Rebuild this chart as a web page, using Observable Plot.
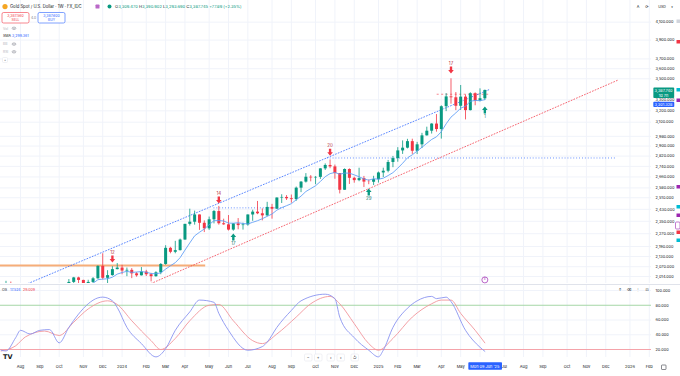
<!DOCTYPE html>
<html>
<head>
<meta charset="utf-8">
<script src="https://cdn.jsdelivr.net/npm/d3@7"></script>
<script src="https://cdn.jsdelivr.net/npm/@observablehq/plot@0.6"></script>
<style>
html,body{margin:0;padding:0;background:#fff;}
#wrap{position:relative;width:680px;height:376px;overflow:hidden;background:#fff;}
#main,#osc,#ui{position:absolute;left:0;width:680px;}
#main{top:0;height:284px;} #osc{top:284px;height:92px;} #ui{top:0;pointer-events:none;}
#main svg,#osc svg{display:block;}
</style>
</head>
<body>
<div id="wrap">
<div id="main"></div>
<div id="osc"></div>
<svg id="ui" width="680" height="376" viewBox="0 0 680 376" font-family="Inter, Roboto, 'DejaVu Sans', sans-serif">
  <line x1="0" y1="284.5" x2="680" y2="284.5" stroke="#e0e3eb" stroke-width="1"/>
  <!-- symbol header -->
  <circle cx="5" cy="6.6" r="2.6" fill="#f5a623"/>
  <text x="10" y="8.1" font-size="4.2" fill="#131722">Gold Spot / U.S. Dollar · 1W · FX_IDC</text>
  <rect x="95.5" y="4.6" width="4" height="4" rx="0.7" fill="#ba68c8"/>
  <circle cx="109.5" cy="6.6" r="2" fill="#089981"/>
  <text x="115" y="8.1" font-size="4.1" fill="#131722">O<tspan fill="#089981">3,309.470</tspan> H<tspan fill="#089981">3,390.902</tspan> L<tspan fill="#089981">3,293.690</tspan> C<tspan fill="#089981">3,387.745</tspan> <tspan fill="#089981">+77.89 (+2.35%)</tspan></text>
  <!-- sell / buy -->
  <rect x="2" y="12.5" width="27" height="10.5" rx="1.6" fill="#fff" stroke="#f23645" stroke-width="0.6"/>
  <text x="15.5" y="17" text-anchor="middle" font-size="3.5" fill="#f23645">3,387.560</text>
  <text x="15.5" y="21.4" text-anchor="middle" font-size="3.3" fill="#f23645">SELL</text>
  <text x="33.5" y="18.9" text-anchor="middle" font-size="3.3" fill="#787b86">4.0</text>
  <rect x="38" y="12.5" width="27" height="10.5" rx="1.6" fill="#fff" stroke="#2962ff" stroke-width="0.6"/>
  <text x="51.5" y="17" text-anchor="middle" font-size="3.5" fill="#2962ff">3,387.600</text>
  <text x="51.5" y="21.4" text-anchor="middle" font-size="3.3" fill="#2962ff">BUY</text>
  <!-- indicator rows -->
  <text x="3" y="29.6" font-size="3.4" fill="#b2b5be">Vol</text>
  <ellipse cx="14" cy="28.3" rx="1.9" ry="1.2" fill="none" stroke="#787b86" stroke-width="0.5"/><circle cx="14" cy="28.3" r="0.5" fill="#787b86"/>
  <text x="3" y="37.2" font-size="3.6" fill="#131722">SMA <tspan fill="#2962ff">3,299.361</tspan></text>
  <text x="3" y="45.4" font-size="3.4" fill="#b2b5be">BB</text>
  <ellipse cx="14" cy="44.1" rx="1.9" ry="1.2" fill="none" stroke="#787b86" stroke-width="0.5"/><circle cx="14" cy="44.1" r="0.5" fill="#787b86"/>
  <text x="3" y="53.1" font-size="3.4" fill="#b2b5be">RSI</text>
  <ellipse cx="14" cy="51.8" rx="1.9" ry="1.2" fill="none" stroke="#787b86" stroke-width="0.5"/><circle cx="14" cy="51.8" r="0.5" fill="#787b86"/>
  <rect x="2.5" y="57.5" width="5" height="5" rx="1" fill="#fff" stroke="#e0e3eb" stroke-width="0.5"/>
  <text x="5" y="61.6" text-anchor="middle" font-size="3.6" fill="#131722">^</text>
  <!-- top right -->
  <text x="638" y="8" text-anchor="middle" font-size="3.8" fill="#131722">A</text>
  <text x="647" y="8" text-anchor="middle" font-size="4" fill="#131722">⟳</text>
  <text x="662" y="8" text-anchor="middle" font-size="3.6" fill="#131722">USD</text>
  <text x="672" y="8" text-anchor="middle" font-size="3.2" fill="#131722">▾</text>
  <!-- right edge markers -->
  <rect x="676.5" y="19.5" width="3.5" height="3.5" fill="#d1d4dc"/>
  <rect x="676.5" y="40" width="3.5" height="3.5" fill="#f23645"/>
  <rect x="676.5" y="88" width="3.5" height="3.5" fill="#00bcd4"/>
  <rect x="676.5" y="98.5" width="3.5" height="3.5" fill="#9c27b0"/>
  <rect x="676.5" y="185" width="3.5" height="3.5" fill="#9c27b0"/>
  <rect x="676.5" y="205" width="3.5" height="3.5" fill="#00bcd4"/>
  <rect x="676.5" y="213.5" width="3.5" height="3.5" fill="#9c27b0"/>
  <rect x="675.5" y="222" width="4.5" height="7" rx="1" fill="#fff" stroke="#9c27b0" stroke-width="0.6"/>
  <rect x="676.5" y="230.5" width="3.5" height="3.5" fill="#f23645"/>
  <rect x="676.5" y="238.5" width="3.5" height="3.5" fill="#00bcd4"/>
  <!-- oscillator header -->
  <text x="2" y="291.4" font-size="3.6" fill="#131722">OS</text>
  <text x="10" y="291.4" font-size="3.6" fill="#2962ff">17.524</text>
  <text x="23" y="291.4" font-size="3.6" fill="#f23645">29.009</text>
  <text x="620" y="291.4" text-anchor="middle" font-size="3.8" fill="#131722">↑</text>
  <text x="629" y="291.4" text-anchor="middle" font-size="3.8" fill="#131722">⌫</text>
  <text x="638" y="291.4" text-anchor="middle" font-size="3.8" fill="#131722">⋮</text>
  <text x="647" y="291.4" text-anchor="middle" font-size="3.8" fill="#131722">⊡</text>
  <!-- logo + nav buttons -->
  <text x="3" y="359" font-size="6.5" font-weight="900" fill="#131722" font-family="'DejaVu Sans', sans-serif">TV</text>
  <g font-size="4.2" fill="#131722" text-anchor="middle">
    <rect x="304.5" y="354" width="7.5" height="7" rx="1.2" fill="#fff" stroke="#e0e3eb" stroke-width="0.5"/><text x="308.2" y="359.2">−</text>
    <rect x="314.5" y="354" width="7.5" height="7" rx="1.2" fill="#fff" stroke="#e0e3eb" stroke-width="0.5"/><text x="318.2" y="359.2">+</text>
    <rect x="327" y="354" width="7.5" height="7" rx="1.2" fill="#fff" stroke="#e0e3eb" stroke-width="0.5"/><text x="330.7" y="359.2">‹</text>
    <rect x="337" y="354" width="7.5" height="7" rx="1.2" fill="#fff" stroke="#e0e3eb" stroke-width="0.5"/><text x="340.7" y="359.2">›</text>
    <rect x="351" y="354" width="7.5" height="7" rx="1.2" fill="#fff" stroke="#e0e3eb" stroke-width="0.5"/><text x="354.7" y="359.2">↺</text>
  </g>
  <rect x="661.5" y="365" width="4.5" height="4.5" rx="0.6" fill="none" stroke="#131722" stroke-width="0.5"/>
</svg>
</div>
<script>
// ---------------- data ----------------
const weekFirst = "2023-07-10";
const weekLast = "2025-06-09";
const opens = [1925,1955,1962,1959,1943,1914,1889,1914,1940,1919,
  1924,1925,1848,1832,1932,1981,2006,1992,1940,1981,
  2001,2072,2004,2019,2053,2062,2045,2049,2029,2018,
  2039,2024,2013,2035,2083,2179,2155,2165,2230,2330,
  2344,2392,2337,2301,2360,2415,2334,2327,2293,2333,
  2322,2326,2392,2411,2400,2386,2443,2431,2508,2512,
  2503,2497,2578,2622,2658,2653,2657,2721,2747,2736,
  2685,2563,2716,2650,2633,2648,2622,2621,2640,2690,
  2703,2770,2800,2861,2883,2936,2858,2910,2984,3023,
  3084,3037,3237,3327,3319,3241,3325,3202,3357,3289,
  3309.47];
const highs = [1963,1987,1983,1970,1945,1917,1924,1953,1953,1932,
  1947,1926,1850,1936,1997,2009,2010,1993,1993,2008,
  2075,2146,2047,2070,2088,2078,2062,2059,2036,2065,
  2049,2032,2041,2088,2195,2185,2222,2236,2330,2431,
  2418,2392,2353,2378,2422,2450,2364,2388,2335,2368,
  2338,2392,2424,2484,2433,2478,2464,2509,2531,2525,
  2529,2586,2626,2685,2670,2663,2722,2759,2790,2750,
  2685,2721,2721,2658,2726,2664,2638,2665,2697,2726,
  2786,2817,2887,2942,2955,2956,2930,3005,3057,3087,
  3167,3245,3358,3500,3368,3435,3345,3366,3365,3403,
  3390.9];
const lows = [1923,1953,1942,1925,1912,1885,1884,1913,1915,1901,
  1913,1846,1810,1832,1908,1953,1970,1932,1931,1975,
  1999,1995,1973,2016,2052,2024,2013,2002,2010,2017,
  2014,1984,2010,2024,2078,2146,2146,2163,2229,2319,
  2325,2291,2277,2291,2333,2325,2324,2287,2286,2295,
  2293,2318,2350,2394,2353,2380,2364,2429,2470,2491,
  2472,2485,2546,2615,2624,2603,2642,2709,2722,2643,
  2537,2563,2605,2614,2625,2583,2603,2597,2615,2656,
  2691,2730,2772,2833,2877,2833,2832,2880,2982,2999,
  3015,2957,3193,3260,3202,3203,3120,3199,3246,3281,
  3293.69];
const closes = [1955,1962,1959,1943,1914,1889,1914,1940,1919,1924,
  1925,1848,1832,1932,1981,2006,1992,1940,1981,2001,
  2072,2004,2019,2053,2062,2045,2049,2029,2018,2039,
  2024,2013,2035,2083,2179,2155,2165,2230,2330,2344,
  2392,2337,2301,2360,2415,2334,2327,2293,2333,2322,
  2326,2392,2411,2400,2386,2443,2431,2508,2512,2503,
  2497,2578,2622,2658,2653,2657,2721,2747,2736,2685,
  2563,2716,2650,2633,2648,2622,2621,2640,2690,2703,
  2770,2800,2861,2883,2936,2858,2910,2984,3023,3084,
  3037,3237,3327,3319,3241,3325,3202,3357,3289,3310,
  3387.74];
const smaLength = 7;

const priceTicks = [4100,3900,3700,3600,3500,3300,3200,3100,2980,2900,2820,2740,2660,2580,2510,2430,2350,2270,2190,2130,2070,2014];
const oscTicks = [100,80,60,40,20];

const monthTickDates = ["2023-08-07","2023-09-04","2023-10-02","2023-11-06","2023-12-04","2024-01-01","2024-02-05","2024-03-04","2024-04-01","2024-05-06","2024-06-03","2024-07-01","2024-08-05","2024-09-02","2024-10-07","2024-11-04","2024-12-02","2025-01-06","2025-02-03","2025-03-03","2025-04-07","2025-05-05","2025-07-07","2025-08-04","2025-09-01","2025-10-06","2025-11-03","2025-12-01","2026-01-05","2026-02-02"];
const monthTickLabels = ["Aug","Sep","Oct","Nov","Dec","2024","Feb","Mar","Apr","May","Jun","Jul","Aug","Sep","Oct","Nov","Dec","2025","Feb","Mar","Apr","May","Jul","Aug","Sep","Oct","Nov","Dec","2026","Feb"];
const crossDate = "2025-06-09";
const crossLabel = "Mon 09 Jun '25";

const upperChannelDates = ["2023-08-18","2025-06-15"];
const upperChannelPrices = [1975,3395];
const lowerChannelDates = ["2024-02-12","2025-12-20"];
const lowerChannelPrices = [1975,3491];

const levelPrices = [2077,2440,2805,3352];
const levelStarts = ["2023-06-01","2024-05-13","2024-10-24","2025-04-01"];
const levelEnds = ["2024-05-01","2024-08-25","2025-12-17","2025-06-16"];

const signalDates = ["2023-12-18","2024-05-20","2024-06-10","2024-10-28","2024-12-23","2025-04-21","2025-06-09"];
const signalPrices = [2095,2470,2271,2823,2576,3552,3238];
const signalLabels = ["12","14","17","20","29","17","1"];
const signalDirs = ["down","down","up","down","up","down","up"];

const eventDates = ["2025-06-09"];

const lastPrice = 3387.74;
const lastCountdown = "1d 7h";
const smaLast = 3301.328;

const kDates = ["2023-07-10","2023-07-17","2023-07-31","2023-08-07","2023-08-21","2023-09-04","2023-09-18","2023-10-02","2023-10-16","2023-10-30","2023-11-13","2023-11-27","2023-12-04","2023-12-18","2023-12-25","2024-01-08","2024-01-29","2024-02-19","2024-03-04","2024-03-18","2024-04-08","2024-04-22","2024-05-13","2024-05-20","2024-06-03","2024-07-01","2024-07-22","2024-07-29","2024-08-12","2024-09-02","2024-09-16","2024-10-21","2024-11-04","2024-11-11","2024-12-02","2024-12-23","2025-01-06","2025-01-13","2025-01-27","2025-02-17","2025-03-03","2025-03-24","2025-03-31","2025-04-14","2025-04-21","2025-05-12","2025-06-02","2025-06-09"];
const kVals = [19,18,36,46,41,46,47,29,50,68,82,90,91,86,77,50,28,10,21,46,71,87,84,69,46,19,24,30,50,73,86,95,89,64,36,19,10,19,50,76,86,92,89,91,85,46,23,17.524];
const dDates = ["2023-07-10","2023-07-31","2023-08-14","2023-09-11","2023-10-02","2023-10-23","2023-11-13","2023-12-11","2023-12-25","2024-01-15","2024-02-12","2024-02-26","2024-03-18","2024-04-08","2024-05-06","2024-05-20","2024-06-10","2024-07-08","2024-07-22","2024-08-12","2024-09-09","2024-09-30","2024-10-28","2024-11-11","2024-12-02","2024-12-23","2025-01-06","2025-01-27","2025-02-24","2025-03-24","2025-04-07","2025-04-21","2025-05-05","2025-05-26","2025-06-09"];
const dVals = [18,25,37,45,39,57,75,86,81,59,32,20,35,59,80,81,59,32,28,41,64,82,92,82,55,28,19,35,64,82,87,87,69,46,29.009];

// ---------------- build ----------------
const FONT = "Inter, Roboto, 'DejaVu Sans', sans-serif";
const UP = "#089981", DOWN = "#f23645";
const D = s => new Date(s);
const DAY = 864e5, PXD = 0.691, T0 = Date.UTC(2023, 7, 7);
const xDomain = [new Date(T0 - 20 / PXD * DAY), new Date(T0 + 631 / PXD * DAY)];
const yDomain = [1975, 4356];

const weeks = d3.utcMonday.range(D(weekFirst), d3.utcDay.offset(D(weekLast), 1));
const candles = weeks.map((date, i) => ({date, open: opens[i], high: highs[i], low: lows[i], close: closes[i]}));
const dirColor = d => d.close >= d.open ? UP : DOWN;

const upper = upperChannelDates.map((d, i) => ({date: D(d), price: upperChannelPrices[i]}));
const lower = lowerChannelDates.map((d, i) => ({date: D(d), price: lowerChannelPrices[i]}));
const levels = levelPrices.map((p, i) => ({price: p, start: D(levelStarts[i]), end: D(levelEnds[i])}));
const signals = signalDates.map((d, i) => ({date: D(d), price: signalPrices[i], label: signalLabels[i], dir: signalDirs[i]}));
const downs = signals.filter(s => s.dir === "down"), ups = signals.filter(s => s.dir === "up");
const months = monthTickDates.map((d, i) => ({date: D(d), label: monthTickLabels[i]}));
const gridDates = months.map(m => m.date).concat([D("2025-06-02")]);
const kData = kDates.map((d, i) => ({date: D(d), v: kVals[i]}));
const dData = dDates.map((d, i) => ({date: D(d), v: dVals[i]}));
const fmtPrice = d3.format(",.3f");

const blockArrow = {
  draw(context, l, r) {
    const w = r * 0.42, hh = l * 0.5;
    context.moveTo(-w, 0);
    context.lineTo(-w, -hh);
    context.lineTo(-r, -hh);
    context.lineTo(0, -l);
    context.lineTo(r, -hh);
    context.lineTo(w, -hh);
    context.lineTo(w, 0);
    context.closePath();
  }
};
const dotted = {strokeWidth: 0.85, strokeDasharray: "0.9,2", strokeOpacity: 0.9};
const level = (i, opts) => Plot.ruleY([levels[i]], {y: "price", x1: "start", x2: "end", clip: true, ...opts});

const main = Plot.plot({
  width: 680, height: 284,
  marginLeft: 0, marginRight: 29, marginTop: 0, marginBottom: 1,
  style: {fontFamily: FONT, background: "transparent", overflow: "visible"},
  x: {type: "utc", domain: xDomain, axis: null},
  y: {type: "log", domain: yDomain, axis: null},
  color: {type: "identity"},
  marks: [
    Plot.ruleY(priceTicks, {stroke: "#f0f3fa", strokeWidth: 1}),
    Plot.ruleX(gridDates, {stroke: "#f0f3fa", strokeWidth: 1}),
    level(0, {stroke: "#f6ad78", strokeWidth: 2}),
    level(1, {stroke: "#2962ff", ...dotted}),
    level(2, {stroke: "#2962ff", ...dotted}),
    level(3, {stroke: "#f23645", strokeWidth: 0.8, strokeDasharray: "2,2.5", strokeOpacity: 0.75}),
    Plot.line(upper, {x: "date", y: "price", stroke: "#2962ff", ...dotted, clip: true}),
    Plot.line(lower, {x: "date", y: "price", stroke: "#f23645", ...dotted, clip: true}),
    Plot.ruleX(candles, {x: "date", y1: "low", y2: "high", stroke: dirColor, strokeWidth: 0.8, clip: true}),
    Plot.ruleX(candles, {x: "date", y1: "open", y2: "close", stroke: dirColor, strokeWidth: 3, clip: true}),
    Plot.lineY(candles, Plot.windowY({k: smaLength, anchor: "end"}, {x: "date", y: "close", stroke: "#5b9cf6", strokeWidth: 0.85, clip: true})),
    Plot.vector(downs, {x: "date", y: "price", length: 7, r: 2.8, rotate: 180, anchor: "end", shape: blockArrow, fill: DOWN, stroke: "none"}),
    Plot.vector(ups, {x: "date", y: "price", length: 7, r: 2.8, rotate: 0, anchor: "end", shape: blockArrow, fill: UP, stroke: "none"}),
    Plot.text(downs, {x: "date", y: "price", text: "label", dy: -10.3, fill: "#b22833", fontSize: 4.4}),
    Plot.text(ups, {x: "date", y: "price", text: "label", dy: 10, fill: "#0b6e5f", fontSize: 4.4}),
    Plot.dot(eventDates.map(D), {x: d => d, frameAnchor: "bottom", dy: -3.6, r: 3, stroke: "#9c27b0", strokeWidth: 0.7, fill: "white"}),
    Plot.text(eventDates.map(D), {x: d => d, text: () => "E", frameAnchor: "bottom", dy: -3.6, fontSize: 3.2, fill: "#9c27b0"}),
    Plot.text(priceTicks, {y: d => d, text: d => fmtPrice(d), frameAnchor: "right", dx: 4, textAnchor: "start", fontSize: 3.9, fill: "#131722"}),
    Plot.text([lastPrice], {y: d => d, text: d => fmtPrice(d) + "\n" + lastCountdown, frameAnchor: "right", dx: 12, dy: 2.4, textAnchor: "middle", lineHeight: 1.2, fontSize: 3.9, fill: "white"}),
    Plot.text([smaLast], {y: d => d, text: d => fmtPrice(d), frameAnchor: "right", dx: 12, dy: 5, textAnchor: "middle", fontSize: 3.9, fill: "white"})
  ]
});
document.getElementById("main").appendChild(main);

const osc = Plot.plot({
  width: 680, height: 92,
  marginLeft: 0, marginRight: 29, marginTop: 0, marginBottom: 19,
  style: {fontFamily: FONT, background: "transparent", overflow: "visible"},
  x: {type: "utc", domain: xDomain, axis: null},
  y: {domain: [20, 100], range: [65, 6], axis: null},
  marks: [
    Plot.ruleX(gridDates, {stroke: "#f0f3fa", strokeWidth: 1}),
    Plot.ruleY([100, 60, 40], {stroke: "#f0f3fa", strokeWidth: 1}),
    Plot.ruleY([80], {stroke: "#a5d6a7", strokeWidth: 1}),
    Plot.ruleY([20], {stroke: "#f5a3aa", strokeWidth: 1}),
    Plot.line(dData, {x: "date", y: "v", stroke: "#f2959b", strokeWidth: 0.9, curve: "monotone-x"}),
    Plot.line(kData, {x: "date", y: "v", stroke: "#8a94f0", strokeWidth: 0.9, curve: "monotone-x"}),
    Plot.text(oscTicks, {y: d => d, text: d => d3.format(".3f")(d), frameAnchor: "right", dx: 4, textAnchor: "start", fontSize: 3.9, fill: "#131722"}),
    Plot.text(months, {x: "date", text: "label", frameAnchor: "bottom", dy: 10, fontSize: 4, fill: "#131722"}),
    Plot.text([D(crossDate)], {x: d => d, text: () => crossLabel, frameAnchor: "bottom", dy: 10, fontSize: 3.9, fill: "white"})
  ]
});
document.getElementById("osc").appendChild(osc);

// background boxes behind price / date tags
function boxTags(svg, pairs) {
  d3.select(svg).selectAll("text").each(function() {
    const t = this.textContent;
    for (const [key, color, px, py] of pairs) {
      if (t.startsWith(key)) {
        const b = this.getBBox();
        const r = document.createElementNS("http://www.w3.org/2000/svg", "rect");
        r.setAttribute("x", b.x - px); r.setAttribute("y", b.y - py);
        r.setAttribute("width", b.width + 2 * px); r.setAttribute("height", b.height + 2 * py);
        r.setAttribute("rx", 0.8); r.setAttribute("fill", color);
        const tr = this.getAttribute("transform"); if (tr) r.setAttribute("transform", tr);
        this.parentNode.insertBefore(r, this);
        break;
      }
    }
  });
}
boxTags(main, [[fmtPrice(lastPrice), UP, 1.2, 0.4], [fmtPrice(smaLast), "#2962ff", 1.2, 0.1]]);
boxTags(osc, [[crossLabel, "#2962ff", 2, 1.2]]);
</script>
</body>
</html>
